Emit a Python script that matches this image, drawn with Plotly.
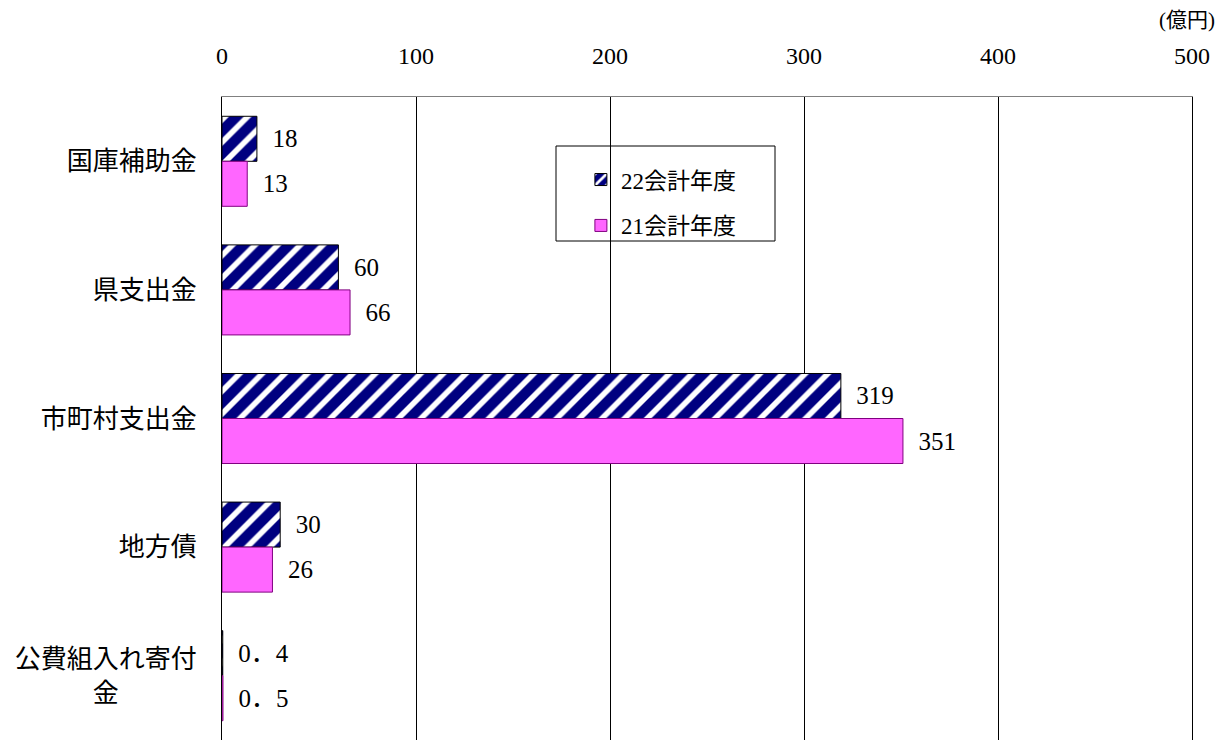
import plotly.graph_objects as go

categories = ["国庫補助金", "県支出金", "市町村支出金", "地方債", "公費組入れ寄付金"]
tick_labels = ["国庫補助金", "県支出金", "市町村支出金", "地方債", "公費組入れ寄付<br>金\u3000\u3000\u3000"]
fy22 = [18, 60, 319, 30, 0.4]
fy21 = [13, 66, 351, 26, 0.5]
series_names = ["22会計年度", "21会計年度"]
x_ticks = [0, 100, 200, 300, 400, 500]
unit_label = "(億円)"

FONT = "Liberation Serif, Noto Sans CJK JP, serif"


def fmt(v):
    s = f"{v:g}"
    return s.replace(".", "．")


fig = go.Figure()
fig.add_trace(go.Bar(
    y=categories, x=fy22, orientation="h", name=series_names[0],
    legendgroup="a",
    text=["\u2002" + fmt(v) for v in fy22], textposition="outside",
    constraintext="none", cliponaxis=False,
    textfont=dict(family=FONT, size=25, color="#000000"),
    marker=dict(color="#000080",
                line=dict(color="#000000", width=1),
                pattern=dict(shape="/", bgcolor="#000080", fgcolor="#ffffff",
                             size=16, solidity=0.35, fillmode="replace")),
))
fig.add_trace(go.Bar(
    y=categories, x=fy21, orientation="h", name=series_names[1],
    legendgroup="b",
    text=["\u2002" + fmt(v) for v in fy21], textposition="outside",
    constraintext="none", cliponaxis=False,
    textfont=dict(family=FONT, size=25, color="#000000"),
    marker=dict(color="#ff66ff", line=dict(color="#800080", width=1)),
))

fig.update_layout(
    width=1220, height=732,
    margin=dict(l=214, r=36, t=89, b=0),
    paper_bgcolor="#ffffff", plot_bgcolor="#ffffff",
    barmode="group", bargap=0.3, bargroupgap=0,
    font=dict(family=FONT, size=22, color="#000000"),
    showlegend=True,
    legend=dict(x=0.37, y=0.905, xanchor="left", yanchor="top",
                bgcolor="rgba(0,0,0,0)", borderwidth=0,
                traceorder="grouped", tracegroupgap=13,
                font=dict(family=FONT, size=23)),
    xaxis=dict(side="top", range=[0, 500], tickvals=x_ticks,
               showgrid=True, gridcolor="#000000", gridwidth=1,
               showline=True, linecolor="#808080", linewidth=1, mirror=True,
               zeroline=False, ticks="", ticklabelstandoff=22,
               tickfont=dict(family=FONT, size=24)),
    yaxis=dict(categoryorder="array", categoryarray=categories,
               tickvals=categories, ticktext=tick_labels,
               autorange="reversed",
               showline=True, linecolor="#000000", linewidth=1, mirror=True,
               showgrid=False, zeroline=False, ticks="", ticklabelstandoff=19,
               tickfont=dict(family=FONT, size=26)),
    shapes=[dict(type="rect", xref="paper", yref="paper",
                 x0=(556 - 222) / 970, x1=(775 - 222) / 970,
                 y0=(740 - 241) / 643, y1=(740 - 146) / 643,
                 line=dict(color="#000000", width=1), fillcolor="rgba(0,0,0,0)")],
    annotations=[dict(text=unit_label, xref="paper", yref="paper",
                      x=1.026, y=(740 - 20) / 643, xanchor="right", yanchor="middle",
                      showarrow=False, font=dict(family=FONT, size=21))],
)

fig.write_html("out.html")
